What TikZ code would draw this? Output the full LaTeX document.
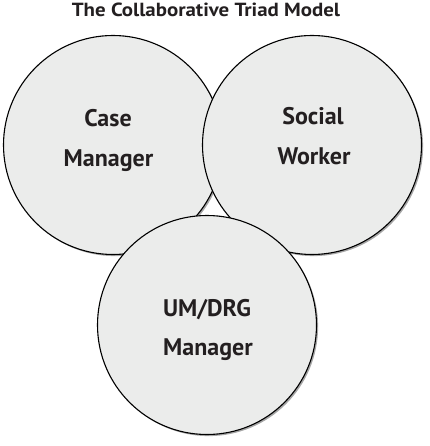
\documentclass[tikz,border=0pt]{standalone}
\usepackage{fontspec}
\setmainfont{PT Sans}
\usetikzlibrary{shadows}
\definecolor{circfill}{HTML}{EBECEB}
\definecolor{txt}{HTML}{231F20}
\begin{document}
\begin{tikzpicture}[x=1pt,y=-1pt,
  role/.style={circle,draw=black,line width=1.1pt,fill=circfill,minimum size=219pt,inner sep=0pt,
    drop shadow={shadow xshift=1.6pt,shadow yshift=-1.6pt,fill=black,opacity=0.35}},
  lbl/.style={anchor=base,text=txt,font=\fontsize{24}{28}\selectfont\bfseries},
  ttl/.style={anchor=base,text=txt,font=\fontsize{19}{22}\selectfont\bfseries,xscale=1.1}]
\useasboundingbox (0,0) rectangle (429,446);
\node[role] (cm) at (113,145) {};
\node[role] (sw) at (312,145) {};
\node[role] (um) at (207,325) {};
\node[ttl] (title) at (206,17) {The Collaborative Triad Model};
\node[lbl] (cm1) at (108,127) {Case};
\node[lbl] (cm2) at (108.5,167) {Manager};
\node[lbl] (sw1) at (313,125) {Social};
\node[lbl] (sw2) at (314,165) {Worker};
\node[lbl] (um1) at (207,316) {UM/DRG};
\node[lbl] (um2) at (208,355) {Manager};
\end{tikzpicture}
\end{document}
